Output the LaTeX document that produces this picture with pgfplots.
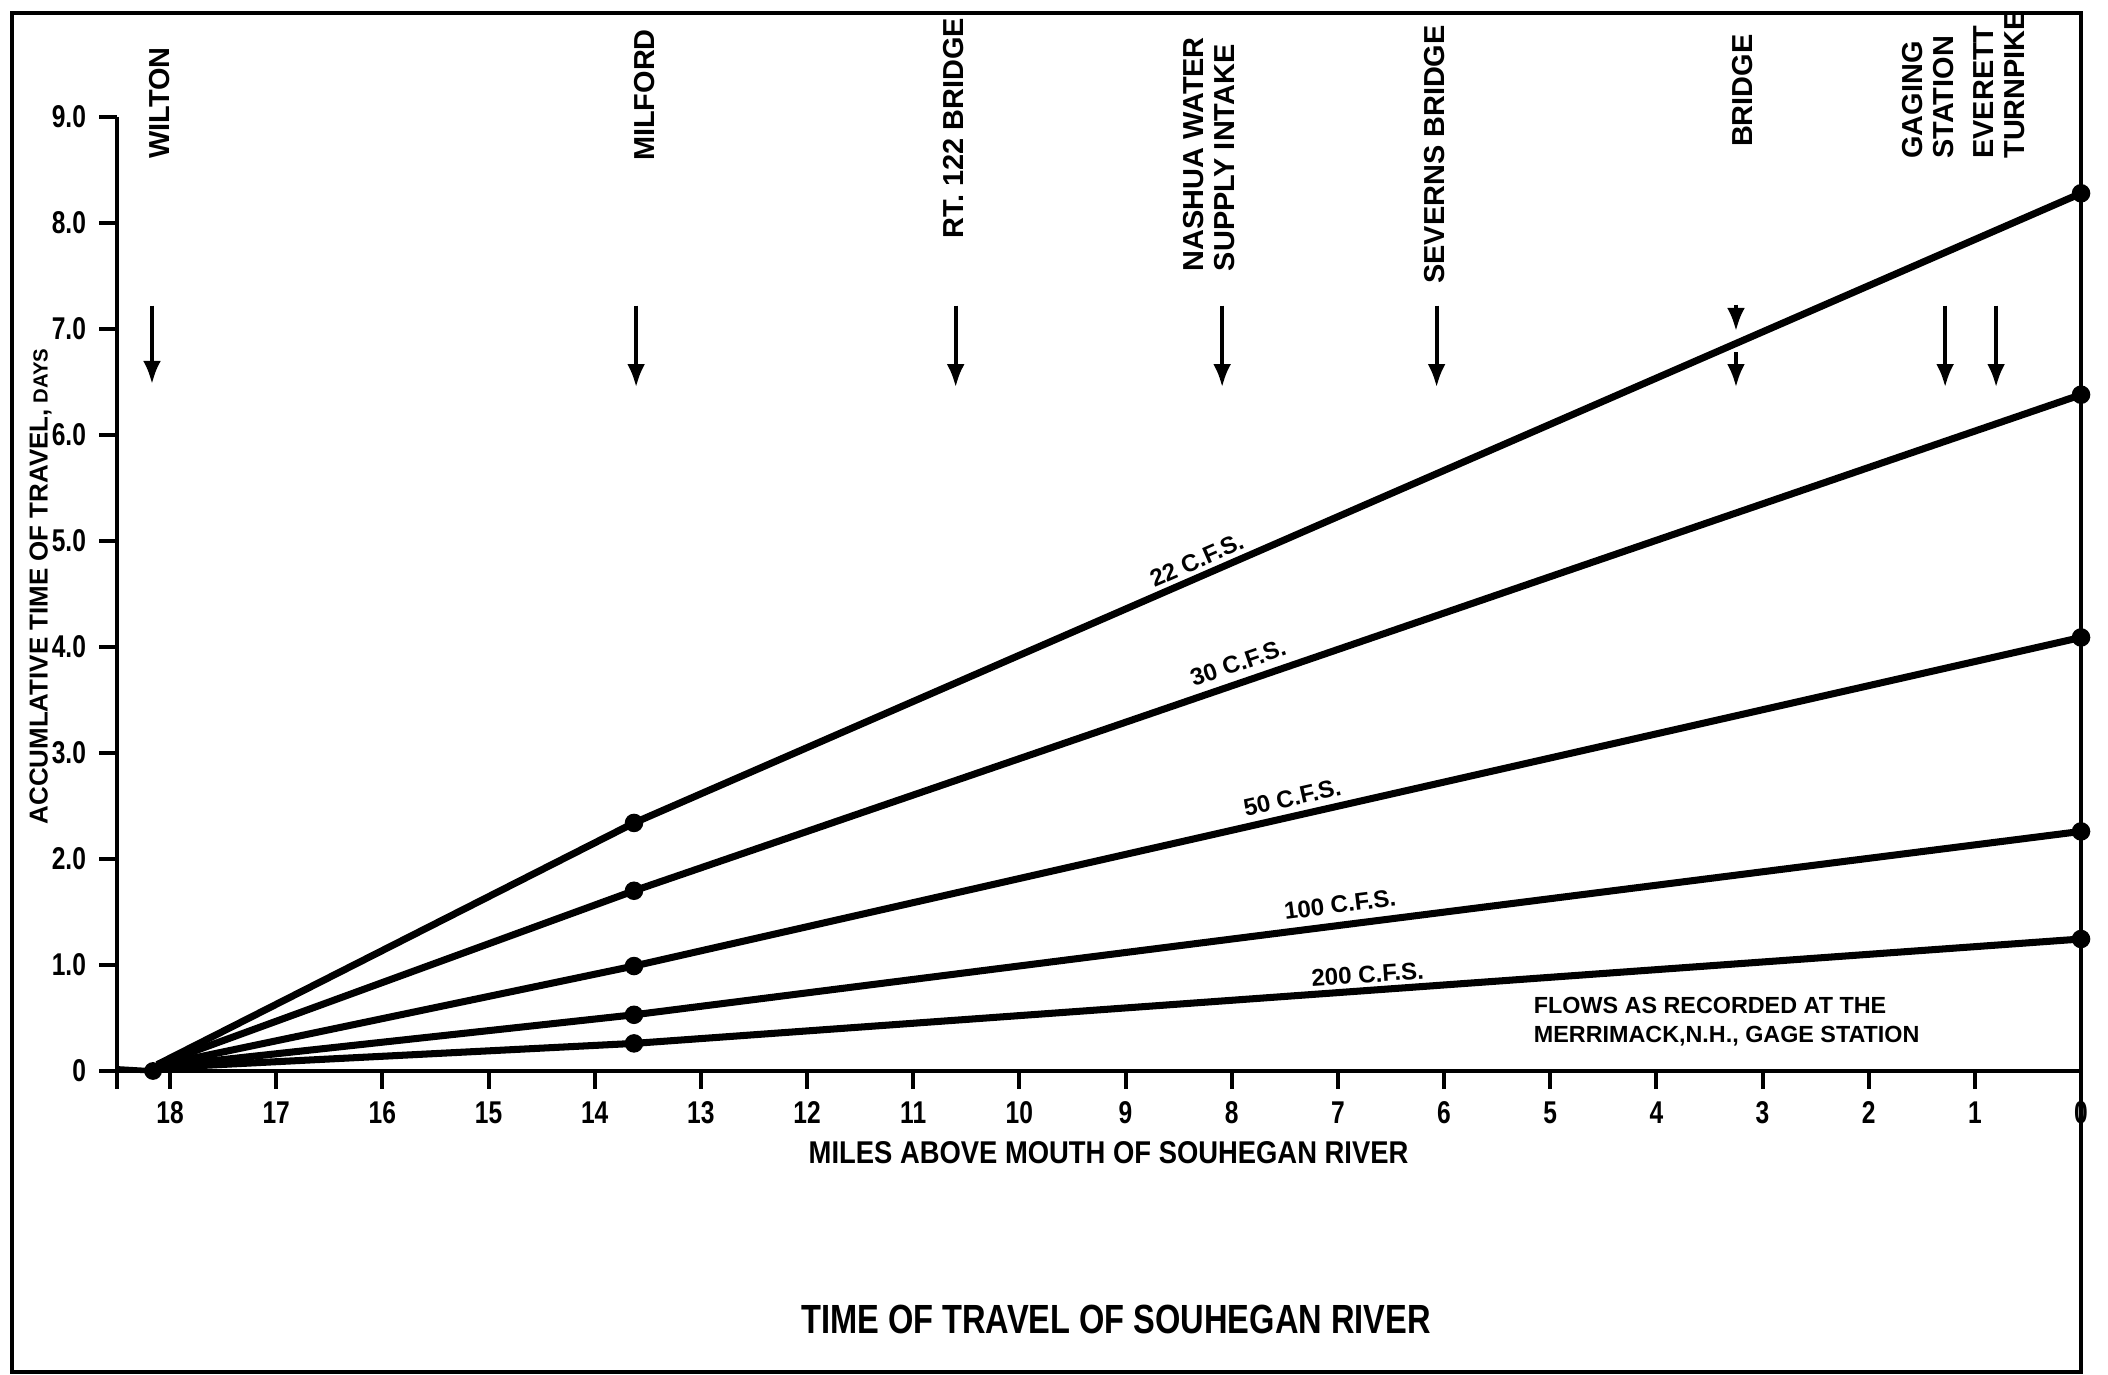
\documentclass[border=0pt]{standalone}
\usepackage{pgfplots}
\pgfplotsset{compat=1.18}
\usetikzlibrary{arrows.meta}
\usepackage{fontspec}
\setmainfont{Liberation Sans}
\newfontfamily\condt[FakeStretch=0.8]{Liberation Sans}
\newfontfamily\condx[FakeStretch=0.87]{Liberation Sans}
\newfontfamily\condk[FakeStretch=0.78]{Liberation Sans}

\begin{document}
\begin{tikzpicture}
\begin{axis}[
  scale only axis, width=18.634cm, height=9.051cm,
  xmin=0, xmax=18.5, ymin=0, ymax=9, x dir=reverse,
  axis x line=bottom, axis y line=left,
  axis line style={-, line width=1.2pt, black},
  xtick={0,1,...,18},
  xticklabels={0,1,2,3,4,5,6,7,8,9,10,11,12,13,14,15,16,17,18},
  extra x ticks={18.5}, extra x tick labels={},
  ytick={0,1,...,9},
  yticklabels={0,1.0,2.0,3.0,4.0,5.0,6.0,7.0,8.0,9.0},
  tick align=outside, major tick length=0.17cm,
  tick style={line width=1.1pt, black},
  xticklabel style={font=\condk\bfseries\fontsize{8.5}{10}\selectfont},
  yticklabel style={font=\condk\bfseries\fontsize{8.5}{10}\selectfont},
  clip=false,
]
% frame and page extent
\path (axis cs:19.602,10.104) rectangle (axis cs:-0.254,-2.858);
\draw[line width=1.1pt] (axis cs:19.489,9.981) rectangle (axis cs:0,-2.840);

% start segment
\addplot[line width=1.5pt, mark=*, mark size=2.2pt, mark indices={2}, mark options={line width=0.4pt}]
  coordinates {(18.5,0.02) (18.16,0)};
% flow curves
\addplot[line width=1.9pt, mark=*, mark size=2.3pt, mark indices={2,3}, mark options={line width=0.4pt}]
  coordinates {(18.12,0.06) (13.63,2.34) (0,8.28)};
\addplot[line width=1.9pt, mark=*, mark size=2.3pt, mark indices={2,3}, mark options={line width=0.4pt}]
  coordinates {(18.12,0.06) (13.63,1.70) (0,6.38)};
\addplot[line width=1.9pt, mark=*, mark size=2.3pt, mark indices={2,3}, mark options={line width=0.4pt}]
  coordinates {(18.12,0.05) (13.63,0.99) (0,4.09)};
\addplot[line width=1.9pt, mark=*, mark size=2.3pt, mark indices={2,3}, mark options={line width=0.4pt}]
  coordinates {(18.12,0.04) (13.63,0.53) (0,2.26)};
\addplot[line width=1.9pt, mark=*, mark size=2.3pt, mark indices={2,3}, mark options={line width=0.4pt}]
  coordinates {(18.12,0.03) (13.63,0.26) (0,1.245)};

% curve labels
\begin{scope}[every node/.style={font=\bfseries\fontsize{6.5}{7}\selectfont, inner sep=0pt}]
\node[rotate=23.6] at (axis cs:8.33,4.82) {22 C.F.S.};
\node[rotate=19] at (axis cs:7.94,3.85) {30 C.F.S.};
\node[rotate=12.8] at (axis cs:7.43,2.58) {50 C.F.S.};
\node[rotate=7.2] at (axis cs:6.98,1.57) {100 C.F.S.};
\node[rotate=4] at (axis cs:6.72,0.91) {200 C.F.S.};
\end{scope}

\node[anchor=west, align=left, inner sep=0pt, font=\bfseries\fontsize{6.3}{7.6}\selectfont]
  at (axis cs:5.16,0.465) {FLOWS AS RECORDED AT THE\\MERRIMACK,N.H., GAGE STATION};

% location labels
\begin{scope}[every node/.style={rotate=90, anchor=west, align=left, inner sep=0pt, font=\bfseries\fontsize{7.8}{8.4}\selectfont}]
\node at (axis cs:18.10,8.60) {WILTON};
\node at (axis cs:13.53,8.58) {MILFORD};
\node at (axis cs:10.62,7.85) {RT. 122 BRIDGE};
\node at (axis cs:8.21,7.54) {NASHUA WATER\\SUPPLY INTAKE};
\node at (axis cs:6.09,7.42) {SEVERNS BRIDGE};
\node at (axis cs:3.19,8.71) {BRIDGE};
\node at (axis cs:1.44,8.60) {GAGING\\STATION};
\node at (axis cs:0.77,8.60) {EVERETT\\TURNPIKE};
\end{scope}

% arrows
\begin{scope}[line width=1.1pt, -{Latex[length=2.2mm,width=1.7mm]}]
\draw (axis cs:18.17,7.22) -- (axis cs:18.17,6.48);
\draw (axis cs:13.61,7.22) -- (axis cs:13.61,6.45);
\draw (axis cs:10.60,7.22) -- (axis cs:10.60,6.45);
\draw (axis cs:8.09,7.22) -- (axis cs:8.09,6.45);
\draw (axis cs:6.07,7.22) -- (axis cs:6.07,6.45);
\draw (axis cs:3.25,7.23) -- (axis cs:3.25,6.98);
\draw (axis cs:3.25,6.78) -- (axis cs:3.25,6.45);
\draw (axis cs:1.28,7.22) -- (axis cs:1.28,6.45);
\draw (axis cs:0.80,7.22) -- (axis cs:0.80,6.45);
\end{scope}

% axis titles
\node[rotate=90, inner sep=0pt] at (axis cs:19.22,4.57)
  {\bfseries\fontsize{7}{8}\selectfont ACCUMLATIVE TIME OF TRAVEL,\fontsize{5.5}{6}\selectfont\ DAYS};
\node[inner sep=0pt, font=\condx\bfseries\fontsize{8.5}{10}\selectfont] at (axis cs:9.16,-0.77)
  {MILES ABOVE MOUTH OF SOUHEGAN RIVER};
\node[inner sep=0pt, font=\condt\bfseries\fontsize{11}{13}\selectfont] at (axis cs:9.09,-2.34)
  {TIME OF TRAVEL OF SOUHEGAN RIVER};
\end{axis}
\end{tikzpicture}
\end{document}
